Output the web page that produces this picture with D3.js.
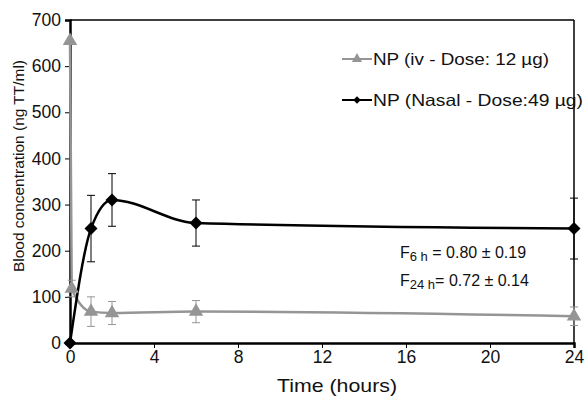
<!DOCTYPE html>
<html>
<head>
<meta charset="utf-8">
<script src="https://cdn.jsdelivr.net/npm/d3@7"></script>
<style>
body { margin: 0; background: #fff; }
text { font-family: "Liberation Sans", Arial, sans-serif; }
</style>
</head>
<body>
<svg id="chart" width="585" height="398"></svg>
<script>
// données
const ivTime = [0, 0.083, 1, 2, 6, 24]
const ivConc = [655, 118, 68, 65, 68, 58]
const ivErr = [0, 18, 32, 25, 24, 20]

const nasalTime = [0, 1, 2, 6, 24]
const nasalConc = [0, 248, 310, 260, 248]
const nasalErr = [0, 72, 57, 50, 66]

const xTicks = [0, 4, 8, 12, 16, 20, 24]
const yTicks = [0, 100, 200, 300, 400, 500, 600, 700]

const legendLabels = ["NP (iv - Dose: 12 µg)", "NP (Nasal - Dose:49 µg)"]

const width = 585
const height = 398
const margin = { left: 70, right: 11, top: 20, bottom: 55 }

const svg = d3.select("#chart")

const x_scale = d3.scaleLinear().domain([0, 24]).range([margin.left, width - margin.right])
const y_scale = d3.scaleLinear().domain([0, 700]).range([height - margin.bottom, margin.top])

const ivData = ivTime.map((t, i) => ({ t: t, v: ivConc[i], e: ivErr[i] }))
const nasalData = nasalTime.map((t, i) => ({ t: t, v: nasalConc[i], e: nasalErr[i] }))

const grey = "#959595"

// cadre haut et droit
svg.append("line")
    .attr("x1", x_scale(0)).attr("x2", x_scale(24))
    .attr("y1", y_scale(700)).attr("y2", y_scale(700))
    .attr("stroke", "#000").attr("stroke-width", 1.5)
svg.append("line")
    .attr("x1", x_scale(24)).attr("x2", x_scale(24))
    .attr("y1", y_scale(700)).attr("y2", y_scale(0))
    .attr("stroke", "#000").attr("stroke-width", 1.5)

// axes
const xAxis = svg.append("g")
    .attr("transform", `translate(0,${y_scale(0)})`)
    .call(d3.axisBottom(x_scale).tickValues(xTicks).tickSize(5).tickPadding(3))
const yAxis = svg.append("g")
    .attr("transform", `translate(${x_scale(0)},0)`)
    .call(d3.axisLeft(y_scale).tickValues(yTicks).tickSize(5).tickPadding(4))

xAxis.select(".domain").attr("stroke-width", 2.5)
yAxis.select(".domain").attr("stroke-width", 2.5)
xAxis.selectAll("text").attr("font-size", 17.5).attr("fill", "#111")
yAxis.selectAll("text").attr("font-size", 17.5).attr("fill", "#111")
xAxis.selectAll(".tick line").attr("stroke-width", 1)
yAxis.selectAll(".tick line").attr("stroke-width", 1)

// barres d'erreur
const drawErrors = (data, color) => {
    const g = svg.append("g")
    const withErr = data.filter(d => d.e > 0)
    g.selectAll("line.bar").data(withErr).join("line")
        .attr("x1", d => x_scale(d.t)).attr("x2", d => x_scale(d.t))
        .attr("y1", d => y_scale(d.v - d.e)).attr("y2", d => y_scale(d.v + d.e))
        .attr("stroke", color).attr("stroke-width", 1)
    g.selectAll("line.top").data(withErr).join("line")
        .attr("x1", d => x_scale(d.t) - 4).attr("x2", d => x_scale(d.t) + 4)
        .attr("y1", d => y_scale(d.v + d.e)).attr("y2", d => y_scale(d.v + d.e))
        .attr("stroke", color).attr("stroke-width", 1)
    g.selectAll("line.bot").data(withErr).join("line")
        .attr("x1", d => x_scale(d.t) - 4).attr("x2", d => x_scale(d.t) + 4)
        .attr("y1", d => y_scale(d.v - d.e)).attr("y2", d => y_scale(d.v - d.e))
        .attr("stroke", color).attr("stroke-width", 1)
}

drawErrors(ivData, grey)
drawErrors(nasalData, "#000")

const line = d3.line()
    .x(d => x_scale(d.t))
    .y(d => y_scale(d.v))
    .curve(d3.curveMonotoneX)

svg.append("path").datum(ivData)
    .attr("d", line).attr("fill", "none")
    .attr("stroke", grey).attr("stroke-width", 2.5)
svg.append("path").datum(nasalData)
    .attr("d", line).attr("fill", "none")
    .attr("stroke", "#000").attr("stroke-width", 2.5)

const triangle = d3.symbol().type(d3.symbolTriangle).size(90)
const diamond = d3.symbol().type(d3.symbolSquare).size(85)

svg.selectAll("path.tri").data(ivData).join("path")
    .attr("class", "tri")
    .attr("d", triangle)
    .attr("transform", d => `translate(${x_scale(d.t)},${y_scale(d.v)})`)
    .attr("fill", grey)
svg.selectAll("path.dia").data(nasalData).join("path")
    .attr("class", "dia")
    .attr("d", diamond)
    .attr("transform", d => `translate(${x_scale(d.t)},${y_scale(d.v)}) rotate(45)`)
    .attr("fill", "#000")

// légende
const legend = svg.append("g")
const legendY = [59, 100]
const legendColor = [grey, "#000"]
const legendLen = [176, 210]
legendLabels.forEach((lab, i) => {
    legend.append("line")
        .attr("x1", 342).attr("x2", 372)
        .attr("y1", legendY[i]).attr("y2", legendY[i])
        .attr("stroke", legendColor[i]).attr("stroke-width", 2)
    legend.append("path")
        .attr("d", i == 0 ? d3.symbol().type(d3.symbolTriangle).size(45) : d3.symbol().type(d3.symbolSquare).size(28))
        .attr("transform", `translate(357,${legendY[i]})` + (i == 0 ? "" : " rotate(45)"))
        .attr("fill", legendColor[i])
    legend.append("text")
        .attr("x", 373).attr("y", legendY[i] + 6)
        .attr("font-size", 16.5).attr("fill", "#111")
        .attr("textLength", legendLen[i]).attr("lengthAdjust", "spacingAndGlyphs")
        .text(lab)
})

// annotation
const ann = svg.append("g").attr("font-size", 16).attr("fill", "#111")
const t1 = ann.append("text").attr("x", 400).attr("y", 258)
t1.append("tspan").text("F")
t1.append("tspan").attr("font-size", 13).attr("dy", 3).text("6 h")
t1.append("tspan").attr("dy", -3).text(" = 0.80 ± 0.19")
const t2 = ann.append("text").attr("x", 400).attr("y", 286)
t2.append("tspan").text("F")
t2.append("tspan").attr("font-size", 13).attr("dy", 3).text("24 h")
t2.append("tspan").attr("dy", -3).text("= 0.72 ± 0.14")

// titres des axes
svg.append("text")
    .attr("x", 337).attr("y", 392)
    .attr("text-anchor", "middle").attr("font-size", 19).attr("fill", "#111")
    .attr("textLength", 120).attr("lengthAdjust", "spacingAndGlyphs")
    .text("Time (hours)")
svg.append("text")
    .attr("transform", `translate(24,166) rotate(-90)`)
    .attr("text-anchor", "middle").attr("font-size", 15).attr("fill", "#111")
    .attr("textLength", 212).attr("lengthAdjust", "spacingAndGlyphs")
    .text("Blood concentration (ng TT/ml)")
</script>
</body>
</html>
